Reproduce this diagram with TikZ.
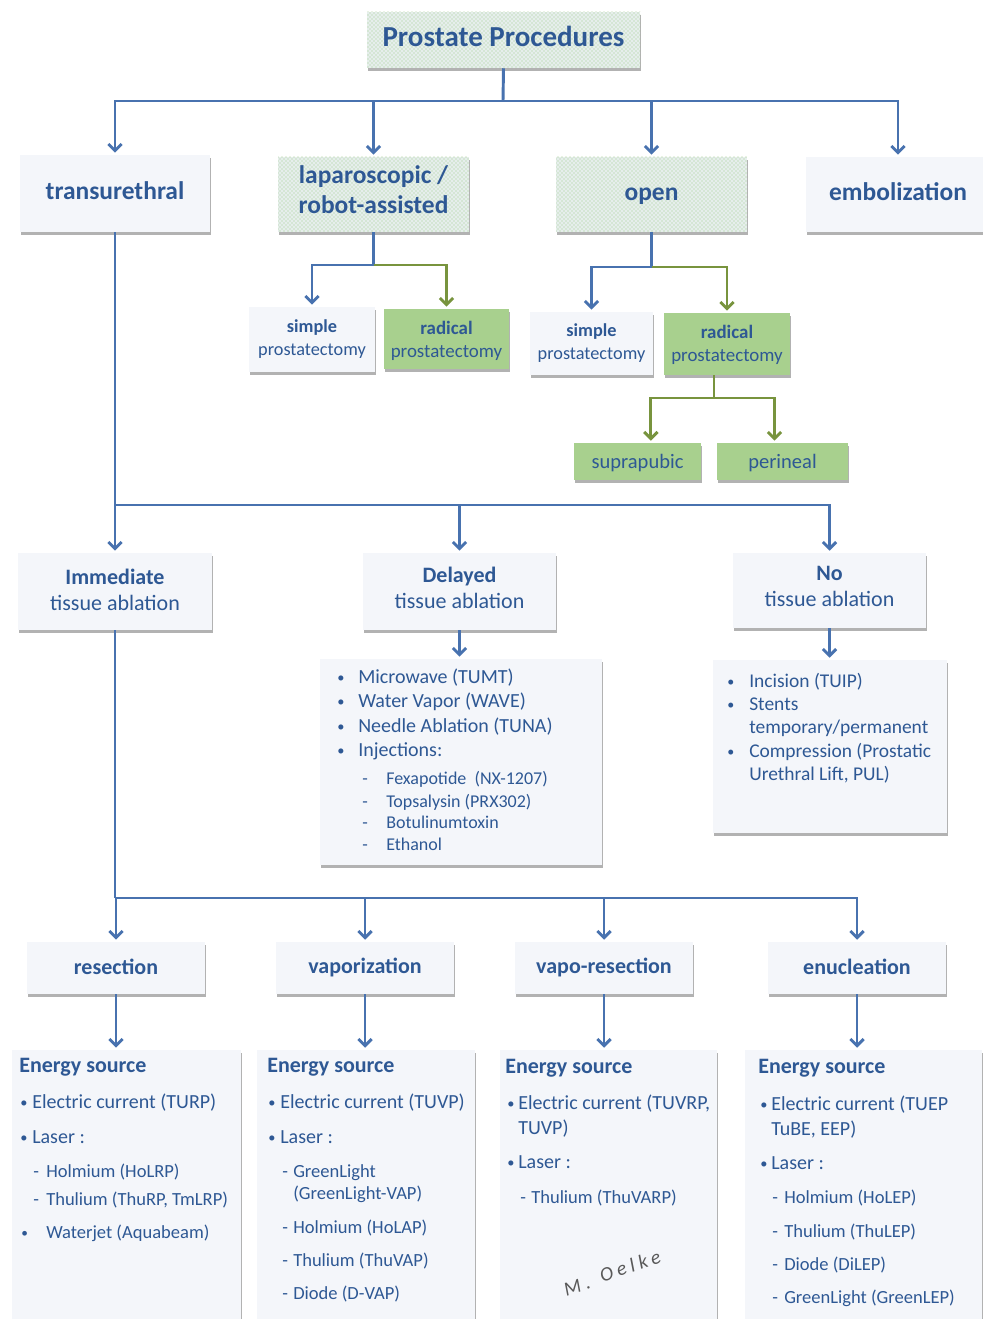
\documentclass[tikz,border=0pt]{standalone}
\usepackage{fontspec}
\setmainfont{Carlito}
\usetikzlibrary{arrows.meta,shadows,patterns}
\definecolor{txt}{RGB}{46,88,148}
\definecolor{lnb}{RGB}{72,114,175}
\definecolor{lng}{RGB}{120,148,62}
\definecolor{gfill}{RGB}{168,208,142}
\definecolor{lfill}{RGB}{244,246,250}
\definecolor{pbase}{RGB}{230,238,236}
\definecolor{pdot}{RGB}{160,204,140}
% box: name, x1, y1, x2, y2, style, font, text dy (px), text
\newcommand\bx[9]{\node[#6, minimum width={(#4-#2)*0.75pt}, minimum height={(#5-#3)*0.75pt}] (#1) at ({(#2+#4)/2},{(#3+#5)/2}) {};
  \node[btext, font=#7] (#1t) at ([yshift={-(#8)*0.75pt}]#1.center) {#9};}
\newcommand\mk[2]{\makebox[#1][l]{#2}}
\newcommand\bu{\raisebox{0.6pt}{\scalebox{0.72}{•}}}
\newcommand\fA{\fontsize{15}{18}\selectfont}
\newcommand\fB{\fontsize{13.9}{16.5}\selectfont}
\newcommand\fC{\fontsize{13.5}{16}\selectfont}
\newcommand\fN{\fontsize{14.6}{17}\selectfont}
\newcommand\fH{\fontsize{16.5}{19.5}\selectfont\bfseries}
\newcommand\fT{\fontsize{19.1}{22.5}\selectfont\bfseries}
\newcommand\fS{\fontsize{13.7}{17.25}\selectfont}
\newcommand\fR{\fontsize{14.2}{17.25}\selectfont}
\newcommand\fM{\fontsize{16.5}{19.5}\selectfont}
\newcommand\fSig{\fontsize{15}{17}\selectfont\itshape\addfontfeature{LetterSpace=22}}
\begin{document}
\begin{tikzpicture}[x=0.75pt,y=-0.75pt,
  box/.style={fill=lfill, inner sep=0pt,
    drop shadow={shadow xshift=0.6pt, shadow yshift=-2.6pt, fill=black!55, opacity=0.55}},
  gbox/.style={box, fill=gfill},
  pbox/.style={box, fill=pbase, postaction={pattern=crosshatch dots, pattern color=pdot}},
  btext/.style={inner sep=0pt, text=txt, align=center},
  lt/.style={anchor=base west, inner sep=0pt, text=txt},
  sig/.style={rotate=18, text=black!65, inner sep=0pt, font=\fSig},
  ln/.style={draw=lnb, line width=2.2pt},
  arr/.style={ln, -{Straight Barb[length=5pt,width=10pt]}, shorten >=1.5pt},
  garr/.style={arr, draw=lng}]
\path[fill=white, use as bounding box] (0,0) rectangle (982,1319);

% boxes
\bx{title}{367}{12}{640}{68}{pbox}{\fontsize{21.75}{26}\selectfont\bfseries}{-4}{Prostate Procedures}
\bx{trans}{20}{155}{210}{232}{box}{\fT}{-3}{transurethral}
\bx{lap}{278}{157}{469}{232}{pbox}{\fT}{-5}{laparoscopic /\\robot-assisted}
\bx{open}{556}{157}{747}{232}{pbox}{\fT}{2}{open}
\bx{emb}{806}{157}{990}{232}{box}{\fT}{-3}{embolization}
\bx{s1}{249}{307}{375}{372}{box}{\fS}{0}{\textbf{simple}\\prostatectomy}
\bx{r1}{384}{309}{509}{369}{gbox}{\fR}{2}{\textbf{radical}\\prostatectomy}
\bx{s2}{530}{312}{653}{375}{box}{\fS}{0}{\textbf{simple}\\prostatectomy}
\bx{r2}{664}{313}{790}{375}{gbox}{\fR}{1}{\textbf{radical}\\prostatectomy}
\bx{sup}{574}{443}{701}{480}{gbox}{\fontsize{15.4}{18}\selectfont}{2}{suprapubic}
\bx{per}{717}{443}{848}{480}{gbox}{\fontsize{15.4}{18}\selectfont}{2}{perineal}
\bx{imm}{18}{553}{212}{630}{box}{\fM}{-2}{\textbf{Immediate}\\tissue ablation}
\bx{del}{363}{553}{556}{630}{box}{\fM}{-4}{\textbf{Delayed}\\tissue ablation}
\bx{no}{733}{553}{926}{628}{box}{\fM}{-4}{\textbf{No}\\tissue ablation}
\bx{dl}{320}{659}{602}{865}{box}{\fA}{0}{}
\bx{nl}{713}{660}{947}{833}{box}{\fA}{0}{}
\bx{res}{27}{942}{205}{994}{box}{\fH}{-1}{resection}
\bx{vap}{276}{942}{454}{994}{box}{\fH}{-1}{vaporization}
\bx{vr}{515}{942}{693}{994}{box}{\fH}{-1}{vapo-resection}
\bx{enu}{768}{942}{946}{994}{box}{\fH}{-1}{enucleation}
\bx{e1}{12}{1050}{241}{1330}{box}{\fA}{0}{}
\bx{e2}{257}{1050}{475}{1330}{box}{\fA}{0}{}
\bx{e3}{500}{1050}{717}{1330}{box}{\fA}{0}{}
\bx{e4}{745}{1050}{982}{1330}{box}{\fA}{0}{}

% connectors
\coordinate (j1) at (503,101);
\draw[ln] (title.south) -- (j1);
\draw[arr] (j1) -| (trans.north);
\draw[arr] (j1) -| (lap.north);
\draw[arr] (j1) -| (open.north);
\draw[arr] (j1) -| (emb.north);
\coordinate (jl) at (373.5,265);
\draw[ln] (lap.south) -- (jl);
\draw[arr] (jl) -| (s1.north);
\draw[garr] (jl) -| (r1.north);
\coordinate (jo) at (651.5,267);
\draw[ln] (open.south) -- (jo);
\draw[arr] (jo) -| (s2.north);
\draw[garr] (jo) -| (r2.north);
\coordinate (jr) at (714,398);
\draw[ln, draw=lng] (r2.south -| jr) -- (jr);
\draw[garr] (jr) -| ([xshift=10pt]sup.north);
\draw[garr] (jr) -| ([xshift=-6pt]per.north);
\coordinate (jt) at (115,505);
\draw[ln] (trans.south) -- (jt);
\draw[arr] (jt) -- (imm.north);
\draw[arr] (jt) -| (del.north);
\draw[arr] (jt) -| (no.north);
\draw[arr] (del.south) -- (del.south |- dl.north);
\draw[arr] (no.south) -- (no.south |- nl.north);
\coordinate (ji) at (115,898);
\draw[ln] (imm.south) -- (ji);
\draw[arr] (ji) -| (res.north);
\draw[arr] (ji) -| (vap.north);
\draw[arr] (ji) -| (vr.north);
\draw[arr] (ji) -| (enu.north);
\draw[arr] (res.south) -- (res.south |- e1.north);
\draw[arr] (vap.south) -- (vap.south |- e2.north);
\draw[arr] (vr.south) -- (vr.south |- e3.north);
\draw[arr] (enu.south) -- (enu.south |- e4.north);

% delayed list
\node[lt, font=\fA] (d1) at (337,683) {\mk{15.75pt}{\bu}Microwave (TUMT)};
\node[lt, font=\fA] (d2) at (337,707) {\mk{15.75pt}{\bu}Water Vapor (WAVE)};
\node[lt, font=\fA] (d3) at (337,732) {\mk{15.75pt}{\bu}Needle Ablation (TUNA)};
\node[lt, font=\fA] (d4) at (337,756) {\mk{15.75pt}{\bu}Injections:};
\node[lt, font=\fC] (d5) at (362,784) {\mk{18pt}{-}Fexapotide\ \ (NX-1207)};
\node[lt, font=\fC] (d6) at (362,807) {\mk{18pt}{-}Topsalysin (PRX302)};
\node[lt, font=\fC] (d7) at (362,828) {\mk{18pt}{-}Botulinumtoxin};
\node[lt, font=\fC] (d8) at (362,850) {\mk{18pt}{-}Ethanol};

% no list
\node[lt, font=\fN] (n1) at (727,687) {\mk{16.5pt}{\bu}Incision (TUIP)};
\node[lt, font=\fN] (n2) at (727,710) {\mk{16.5pt}{\bu}Stents};
\node[lt, font=\fN] (n3) at (749,733) {temporary/permanent};
\node[lt, font=\fN] (n4) at (727,757) {\mk{16.5pt}{\bu}Compression (Prostatic};
\node[lt, font=\fN] (n5) at (749,780) {Urethral Lift, PUL)};

% energy 1
\node[lt, font=\fH] (e1h) at (19,1072) {Energy source};
\node[lt, font=\fA] (e1a) at (20,1108) {\mk{9pt}{\bu}Electric current (TURP)};
\node[lt, font=\fA] (e1b) at (20,1143) {\mk{9pt}{\bu}Laser :};
\node[lt, font=\fB] (e1c) at (33,1177) {\mk{9.75pt}{-}Holmium (HoLRP)};
\node[lt, font=\fB] (e1d) at (33,1205) {\mk{9.75pt}{-}Thulium (ThuRP, TmLRP)};
\node[lt, font=\fB] (e1e) at (21,1238) {\mk{18.75pt}{\bu}Waterjet (Aquabeam)};

% energy 2
\node[lt, font=\fH] (e2h) at (267,1072) {Energy source};
\node[lt, font=\fA] (e2a) at (268,1108) {\mk{9pt}{\bu}Electric current (TUVP)};
\node[lt, font=\fA] (e2b) at (268,1143) {\mk{9pt}{\bu}Laser :};
\node[lt, font=\fB] (e2c) at (282,1177) {\mk{8.25pt}{-}GreenLight};
\node[lt, font=\fB] (e2d) at (293,1199) {(GreenLight-VAP)};
\node[lt, font=\fB] (e2e) at (282,1233) {\mk{8.25pt}{-}Holmium (HoLAP)};
\node[lt, font=\fB] (e2f) at (282,1266) {\mk{8.25pt}{-}Thulium (ThuVAP)};
\node[lt, font=\fB] (e2g) at (282,1299) {\mk{8.25pt}{-}Diode (D-VAP)};

% energy 3
\node[lt, font=\fH] (e3h) at (505,1073) {Energy source};
\node[lt, font=\fA] (e3a) at (507,1109) {\mk{8.25pt}{\bu}Electric current (TUVRP,};
\node[lt, font=\fA] (e3b) at (518,1134) {TUVP)};
\node[lt, font=\fA] (e3c) at (507,1168) {\mk{8.25pt}{\bu}Laser :};
\node[lt, font=\fB] (e3d) at (520,1203) {\mk{8.25pt}{-}Thulium (ThuVARP)};
\node[sig] (sig1) at (577,1286) {M.};
\node[sig] (sig2) at (630,1266) {Oelke};

% energy 4
\node[lt, font=\fH] (e4h) at (758,1073) {Energy source};
\node[lt, font=\fA] (e4a) at (760,1110) {\mk{8.25pt}{\bu}Electric current (TUEP};
\node[lt, font=\fA] (e4b) at (771,1135) {TuBE, EEP)};
\node[lt, font=\fA] (e4c) at (760,1169) {\mk{8.25pt}{\bu}Laser :};
\node[lt, font=\fB] (e4d) at (772,1203) {\mk{9pt}{-}Holmium (HoLEP)};
\node[lt, font=\fB] (e4e) at (772,1237) {\mk{9pt}{-}Thulium (ThuLEP)};
\node[lt, font=\fB] (e4f) at (772,1270) {\mk{9pt}{-}Diode (DiLEP)};
\node[lt, font=\fB] (e4g) at (772,1303) {\mk{9pt}{-}GreenLight (GreenLEP)};
\end{tikzpicture}
\end{document}
